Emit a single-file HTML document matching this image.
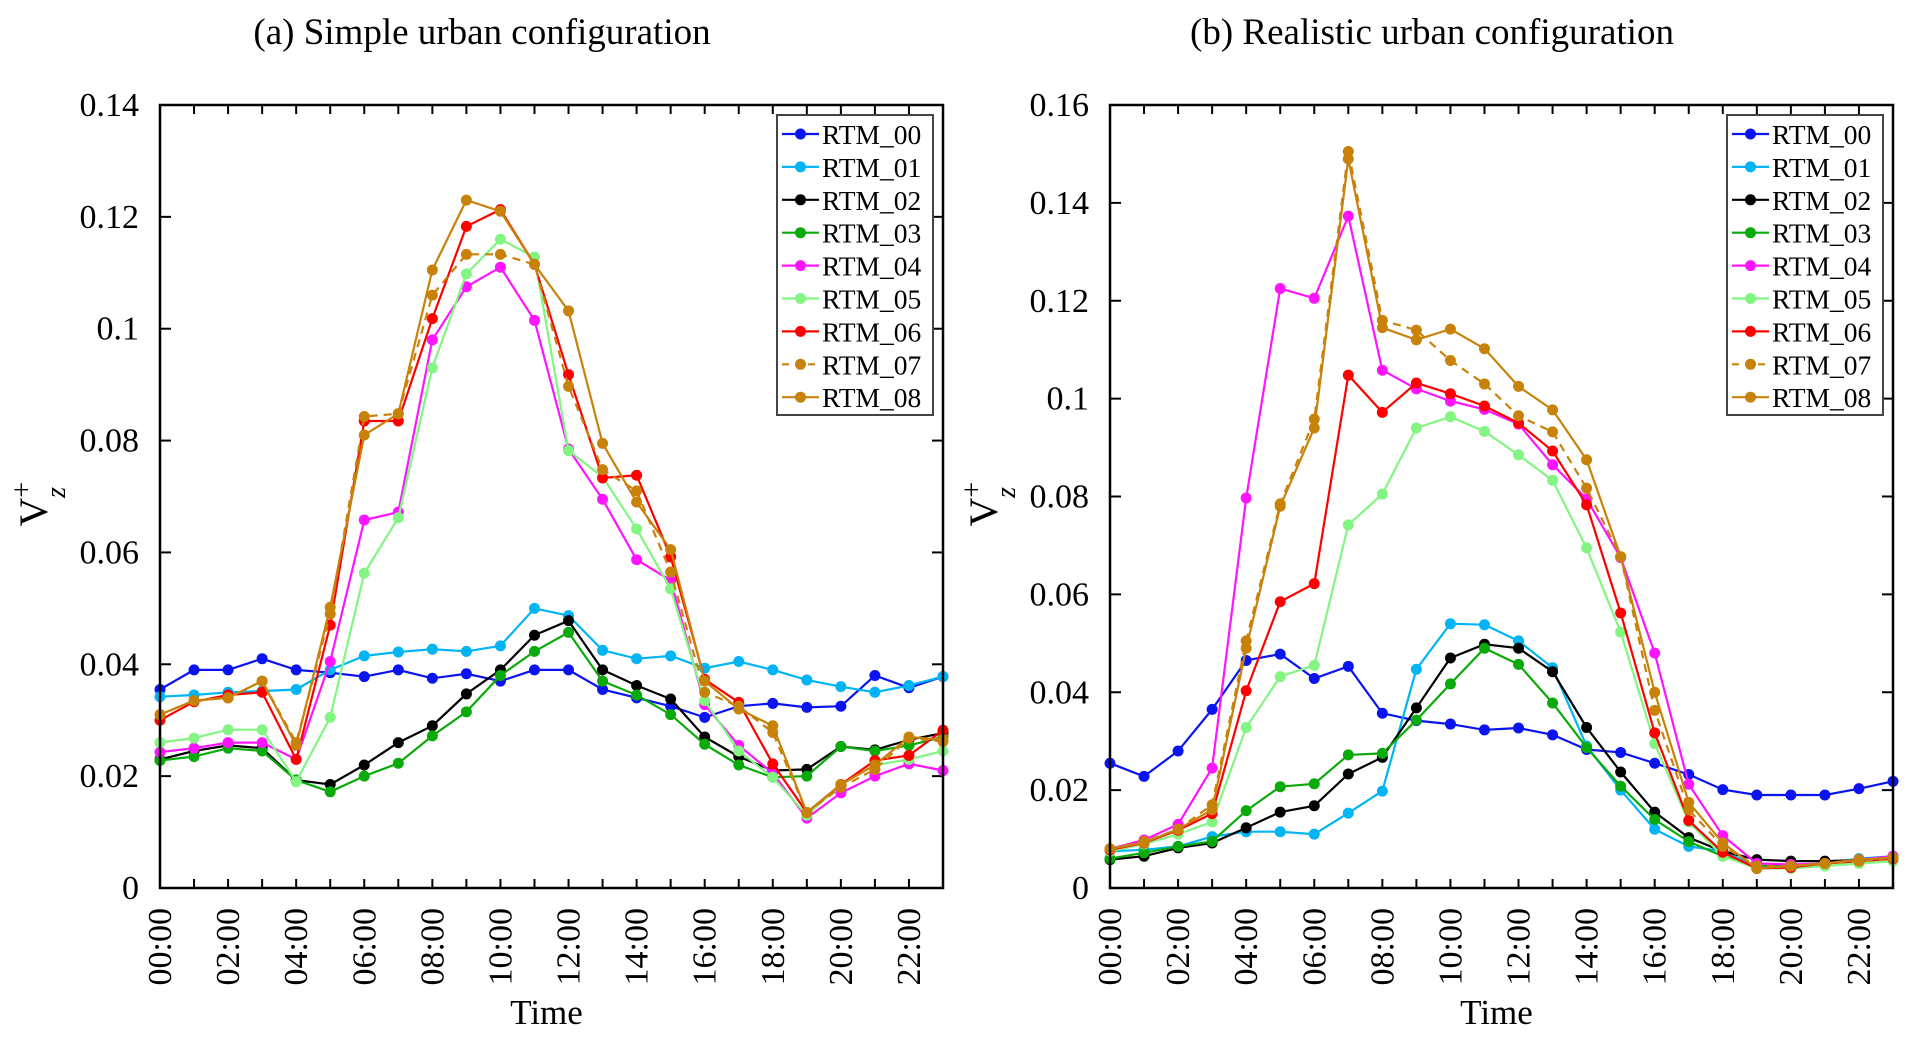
<!DOCTYPE html>
<html><head><meta charset="utf-8"><style>
body{margin:0;background:#fff;}
svg{display:block;font-family:"Liberation Serif",serif;}
</style></head><body>
<svg id="chart" width="1917" height="1042" viewBox="0 0 1917 1042"></svg>
<script>
const hours = ["00:00","01:00","02:00","03:00","04:00","05:00","06:00","07:00","08:00","09:00","10:00","11:00","12:00","13:00","14:00","15:00","16:00","17:00","18:00","19:00","20:00","21:00","22:00","23:00"];
const seriesNames = ["RTM_00","RTM_01","RTM_02","RTM_03","RTM_04","RTM_05","RTM_06","RTM_07","RTM_08"];
const seriesColors = ["#0a14f0","#00b4f5","#000000","#0aaa0a","#ff14ff","#82f582","#ff0000","#c8820a","#c8820a"];
const leftTicks = [0,0.02,0.04,0.06,0.08,0.1,0.12,0.14];
const leftTickLabels = ["0","0.02","0.04","0.06","0.08","0.1","0.12","0.14"];
const rightTicks = [0,0.02,0.04,0.06,0.08,0.1,0.12,0.14,0.16];
const rightTickLabels = ["0","0.02","0.04","0.06","0.08","0.1","0.12","0.14","0.16"];
const a00=[0.0355,0.039,0.039,0.041,0.039,0.0385,0.0378,0.039,0.0375,0.0383,0.037,0.039,0.039,0.0355,0.034,0.0325,0.0305,0.0325,0.033,0.0323,0.0325,0.038,0.0358,0.0378];
const a01=[0.0342,0.0345,0.035,0.0352,0.0355,0.039,0.0415,0.0422,0.0427,0.0423,0.0433,0.050,0.0487,0.0425,0.041,0.0415,0.0393,0.0405,0.039,0.0372,0.036,0.035,0.0362,0.0378];
const a02=[0.023,0.0245,0.0255,0.025,0.0193,0.0185,0.022,0.026,0.029,0.0347,0.039,0.0452,0.0478,0.039,0.0362,0.0338,0.027,0.0235,0.021,0.0212,0.0253,0.0247,0.0265,0.0277];
const a03=[0.0228,0.0235,0.025,0.0245,0.0193,0.0172,0.02,0.0223,0.0272,0.0315,0.038,0.0423,0.0457,0.037,0.0345,0.031,0.0257,0.022,0.0198,0.02,0.0253,0.0245,0.0255,0.027];
const a04=[0.0243,0.025,0.026,0.026,0.023,0.0405,0.0658,0.0672,0.098,0.1075,0.111,0.1015,0.0785,0.0695,0.0587,0.055,0.0328,0.0255,0.0205,0.0125,0.017,0.02,0.0222,0.021];
const a05=[0.026,0.0268,0.0283,0.0283,0.019,0.0305,0.0563,0.0662,0.093,0.1098,0.116,0.1128,0.0782,0.0735,0.0642,0.0535,0.0335,0.0245,0.0198,0.013,0.0185,0.022,0.023,0.0245];
const a06=[0.030,0.0333,0.0345,0.035,0.023,0.047,0.0835,0.0835,0.1018,0.1183,0.1213,0.1115,0.0918,0.0733,0.0738,0.0592,0.0373,0.0332,0.0222,0.0135,0.0185,0.0228,0.0237,0.0282];
const a07=[0.031,0.0335,0.034,0.037,0.026,0.049,0.0843,0.0848,0.106,0.1133,0.1133,0.1115,0.0897,0.0748,0.071,0.0565,0.035,0.0325,0.0278,0.0135,0.018,0.0212,0.0268,0.0262];
const a08=[0.031,0.0335,0.034,0.037,0.0255,0.0502,0.081,0.0848,0.1105,0.123,0.121,0.1115,0.1032,0.0795,0.069,0.0605,0.037,0.032,0.029,0.0135,0.0185,0.022,0.027,0.0265];
const b00=[0.0255,0.0228,0.028,0.0365,0.0465,0.0478,0.0428,0.0453,0.0357,0.0342,0.0335,0.0323,0.0327,0.0313,0.0283,0.0277,0.0255,0.0232,0.0201,0.019,0.019,0.019,0.0203,0.0218];
const b01=[0.0075,0.0078,0.0085,0.0105,0.0115,0.0115,0.011,0.0153,0.0198,0.0447,0.054,0.0538,0.0505,0.045,0.029,0.020,0.012,0.0085,0.0075,0.0045,0.0045,0.005,0.006,0.0065];
const b02=[0.0058,0.0065,0.0082,0.0092,0.0123,0.0155,0.0168,0.0233,0.0267,0.0368,0.047,0.0498,0.049,0.0442,0.0328,0.0237,0.0155,0.0103,0.0075,0.0058,0.0055,0.0055,0.0057,0.0063];
const b03=[0.006,0.0072,0.0085,0.0095,0.0158,0.0207,0.0213,0.0272,0.0275,0.0343,0.0417,0.049,0.0457,0.0378,0.0287,0.0208,0.014,0.0095,0.0065,0.0045,0.0045,0.005,0.0055,0.006];
const b04=[0.008,0.0098,0.013,0.0245,0.0797,0.1225,0.1205,0.1373,0.1058,0.102,0.0995,0.0978,0.0948,0.0865,0.0795,0.0675,0.048,0.0212,0.0107,0.005,0.0048,0.005,0.0058,0.0065];
const b05=[0.0075,0.009,0.011,0.0135,0.0328,0.0432,0.0455,0.0742,0.0805,0.094,0.0963,0.0933,0.0885,0.0833,0.0695,0.0523,0.0295,0.0135,0.0065,0.004,0.004,0.0045,0.005,0.0055];
const b06=[0.0078,0.0092,0.0118,0.0152,0.0403,0.0585,0.0622,0.1048,0.0972,0.1032,0.101,0.0985,0.095,0.0893,0.0783,0.0562,0.0317,0.0138,0.0073,0.004,0.0042,0.005,0.0055,0.006];
const b07=[0.008,0.0095,0.012,0.017,0.0505,0.0785,0.0958,0.1505,0.116,0.114,0.1078,0.103,0.0965,0.0932,0.0817,0.0677,0.0363,0.016,0.0085,0.0045,0.0045,0.005,0.0055,0.0062];
const b08=[0.008,0.0093,0.012,0.016,0.049,0.078,0.094,0.149,0.1145,0.112,0.1142,0.1102,0.1025,0.0977,0.0875,0.0677,0.040,0.0175,0.0092,0.004,0.0045,0.005,0.0058,0.0062];

const NS="http://www.w3.org/2000/svg";
const svg=document.getElementById('chart');
function mk(tag,attrs,parent){const e=document.createElementNS(NS,tag);for(const k in attrs)e.setAttribute(k,attrs[k]);(parent||svg).appendChild(e);return e;}

function panel(id,L,R,T,B,ymax,ticks,tickLabels,data,title,titleX){
  const g=mk('g',{});
  
  
  const xs=i=>L+(R-L)*i/(hours.length-1);
  const ys=v=>B-(B-T)*v/ymax;
  const t=mk('text',{x:titleX,y:44,'text-anchor':'middle','font-size':37},g);
  t.textContent=title;
  
  
  ticks.forEach((v,i)=>{
    const y=ys(v);
    mk('line',{x1:L,x2:L+11,y1:y,y2:y,stroke:'#000','stroke-width':2},g);
    mk('line',{x1:R,x2:R-11,y1:y,y2:y,stroke:'#000','stroke-width':2},g);
    const tl=mk('text',{x:L-21,y:y+11,'text-anchor':'end','font-size':34},g);
    tl.textContent=tickLabels[i];
    
    
  });
  hours.forEach((h,i)=>{
    const x=xs(i);
    mk('line',{x1:x,x2:x,y1:B,y2:B-9,stroke:'#000','stroke-width':2},g);
    mk('line',{x1:x,x2:x,y1:T,y2:T+9,stroke:'#000','stroke-width':2},g);
    if(i%2===0){
      const tl=mk('text',{x:0,y:0,'text-anchor':'end','font-size':34,transform:`translate(${x+11},${B+20}) rotate(-90)`},g);
      tl.textContent=h;
      
      
    }
  });
  const xt=mk('text',{x:(L+R)/2-5,y:1024,'text-anchor':'middle','font-size':35},g);
  xt.textContent='Time';
  
  
  const yt=mk('text',{x:0,y:0,'font-size':40,transform:`translate(${L-113},${(T+B)/2+30}) rotate(-90)`},g);
  yt.innerHTML='V<tspan font-size="28" dy="-16">+</tspan><tspan font-size="28" font-style="italic" dx="-16" dy="34">z</tspan>';
  
  
  data.forEach((vals,si)=>{
    const sg=mk('g',{},g);
    
    
    const pts=vals.map((v,i)=>xs(i).toFixed(1)+','+ys(v).toFixed(1)).join(' ');
    const pl=mk('polyline',{points:pts,fill:'none',stroke:seriesColors[si],'stroke-width':2.2},sg);
    if(si===7)pl.setAttribute('stroke-dasharray','8,6');
    vals.forEach((v,i)=>{
      const c=mk('circle',{cx:xs(i),cy:ys(v),r:5.5,fill:seriesColors[si]},sg);
      
      
    });
  });
  mk('rect',{x:L,y:T,width:R-L,height:B-T,fill:'none',stroke:'#000','stroke-width':2.5},g);
  const lx=R-166,ly=T+10;
  const lg=mk('g',{},g);
  
  
  mk('rect',{x:lx,y:ly,width:156,height:300,fill:'#fff',stroke:'#444','stroke-width':2},lg);
  seriesNames.forEach((n,i)=>{
    const y=ly+19+i*32.9;
    const ln=mk('line',{x1:lx+5,x2:lx+42,y1:y,y2:y,stroke:seriesColors[i],'stroke-width':2.2},lg);
    if(i===7)ln.setAttribute('stroke-dasharray','7,6');
    mk('circle',{cx:lx+23.5,cy:y,r:5.5,fill:seriesColors[i]},lg);
    const tx=mk('text',{x:lx+45,y:y+10,'font-size':27.5},lg);
    tx.textContent=n;
    
    
  });
}
panel('simple',160,943,105,888,0.14,leftTicks,leftTickLabels,[a00,a01,a02,a03,a04,a05,a06,a07,a08],'(a) Simple urban configuration',482);
panel('realistic',1110,1893,105,888,0.16,rightTicks,rightTickLabels,[b00,b01,b02,b03,b04,b05,b06,b07,b08],'(b) Realistic urban configuration',1432);
</script>
</body></html>
